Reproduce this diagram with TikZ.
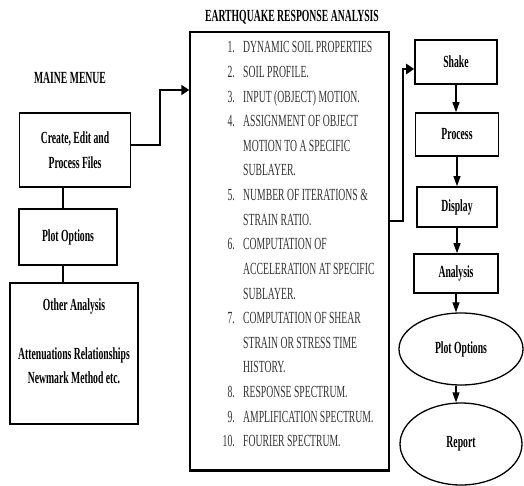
\documentclass[tikz,border=0pt]{standalone}
\usepackage{fontspec}
\setmainfont{Liberation Serif}[FakeStretch=0.57]
\usetikzlibrary{arrows.meta,positioning,shapes.geometric,calc}
\newcommand{\txtsize}{\fontsize{17}{24.5}\selectfont}
\tikzset{
  font=\txtsize,
  box/.style={draw=black,line width=1.6pt,inner sep=0pt,align=center,
              font=\txtsize\bfseries},
  oval/.style={draw=black,line width=1.3pt,ellipse,inner sep=0pt,
               font=\txtsize\bfseries},
  heading/.style={font=\txtsize\bfseries,inner sep=0pt},
  itemno/.style={text=black!80,inner sep=0pt,anchor=base east},
  itemtxt/.style={text=black!80,inner sep=0pt,anchor=base west},
  link/.style={-{Triangle[length=8pt,width=10pt]},line width=2.8pt},
  flow/.style={-{Triangle[length=10pt,width=7pt]},line width=1.3pt},
  tie/.style={line width=1.6pt},
}

\begin{document}
\begin{tikzpicture}[x=1pt,y=-1pt]
  \useasboundingbox (0,0) rectangle (524,486);

  % ---- main menu column ----
  \node[heading] (mainmenu) at (70,78) {MAINE MENUE};
  \node[box,minimum width=111,minimum height=74] (create) at (75,150)
    {Create, Edit and\\Process Files};
  \node[box,minimum width=98,minimum height=56] (plotopt) at (68,237)
    {Plot Options};
  \node[box,minimum width=128,minimum height=141] (other) at (74,353.5) {};
  \node[heading,anchor=north,align=center] (othertxt) at ([yshift=-16pt]other.north)
    {Other Analysis\\[24.5pt]Attenuations Relationships\\Newmark Method etc.};

  \coordinate (leftx) at (63,0);
  \draw[tie] (create.south -| leftx) -- (plotopt.north -| leftx);
  \draw[tie] (plotopt.south -| leftx) -- (other.north -| leftx);

  % ---- earthquake response analysis list ----
  \node[heading] (eqtitle) at (292,17) {EARTHQUAKE RESPONSE ANALYSIS};
  \node[draw=black,line width=1.5pt,minimum width=199,minimum height=438,inner sep=0pt]
    (eqbox) at (289.5,251) {};
  \draw[line width=3pt] (eqbox.south west) -- (eqbox.south east);

  \foreach \num/\txt [count=\i from 0] in {
      1./DYNAMIC SOIL PROPERTIES,
      2./SOIL PROFILE.,
      3./INPUT (OBJECT) MOTION.,
      4./ASSIGNMENT OF OBJECT,
      {}/MOTION TO A SPECIFIC,
      {}/SUBLAYER.,
      5./NUMBER OF ITERATIONS \&,
      {}/STRAIN RATIO.,
      6./COMPUTATION OF,
      {}/ACCELERATION AT SPECIFIC,
      {}/SUBLAYER.,
      7./COMPUTATION OF SHEAR,
      {}/STRAIN OR STRESS TIME,
      {}/HISTORY.,
      8./RESPONSE SPECTRUM.,
      9./AMPLIFICATION SPECTRUM.,
      10./FOURIER SPECTRUM.}{
    \node[itemno] (n\i) at (235,{53+24.6*\i}) {\num};
    \node[itemtxt] (t\i) at (243,{53+24.6*\i}) {\txt};
  }

  \coordinate (bendL) at (160,90);
  \draw[link] ([yshift=5pt]create.east) -| (bendL) -- (eqbox.west |- bendL);

  % ---- shake column ----
  \node[box,minimum width=82,minimum height=44] (shake) at (456,62) {Shake};
  \node[box,minimum width=83,minimum height=43] (process) at (457,134.5) {Process};
  \node[box,minimum width=80,minimum height=40] (display) at (457,207) {Display};
  \node[box,minimum width=84,minimum height=39] (analysis) at (456,273.5) {Analysis};
  \node[oval,minimum width=124,minimum height=72] (plotell) at (461,349) {Plot Options};
  \node[oval,minimum width=122,minimum height=82] (report) at (461,444) {Report};

  \coordinate (outy) at (0,221);
  \coordinate (bendR) at (403,69);
  \draw[link] (eqbox.east |- outy) -| (bendR) -- (shake.west |- bendR);

  \draw[flow] (shake.south) -- (process.north -| shake.south);
  \draw[flow] (process.south) -- (display.north -| process.south);
  \draw[flow] (display.south) -- (analysis.north -| display.south);
  \draw[flow] (analysis.south) -- (plotell.north -| analysis.south);
  \draw[flow] (plotell.south -| analysis.south) -- (report.north -| analysis.south);
\end{tikzpicture}
\end{document}
